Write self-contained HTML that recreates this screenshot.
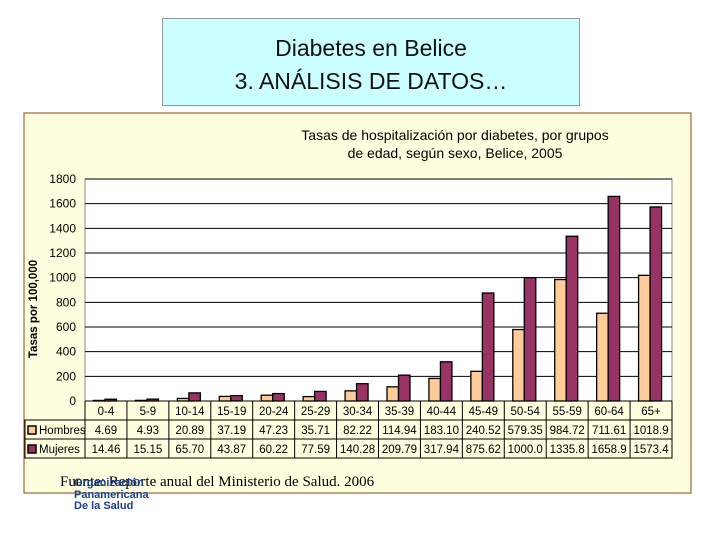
<!DOCTYPE html>
<html><head><meta charset="utf-8"><style>
body{margin:0;width:720px;height:540px;background:#fff;position:relative;overflow:hidden;font-family:"Liberation Sans",sans-serif}
</style></head><body>
<div style="position:absolute;left:162px;top:18px;width:418px;height:88px;background:#ccffff;border:1px solid #999;text-align:center;font-size:23px;line-height:33px;padding-top:13px;box-sizing:border-box;color:#111">Diabetes en Belice<br>3. ANÁLISIS DE DATOS…</div>
<svg width="720" height="540" style="position:absolute;left:0;top:0">
<rect x="24" y="113" width="667" height="380" fill="#ffffe0" stroke="#8b4513" stroke-width="1"/>
<g id="g"></g>
</svg>
<script>
const categories=["0-4","5-9","10-14","15-19","20-24","25-29","30-34","35-39","40-44","45-49","50-54","55-59","60-64","65+"];
const hombres=[4.69,4.93,20.89,37.19,47.23,35.71,82.22,114.94,183.10,240.52,579.35,984.72,711.61,1018.9];
const mujeres=[14.46,15.15,65.70,43.87,60.22,77.59,140.28,209.79,317.94,875.62,1000.0,1335.8,1658.9,1573.4];
const hombresLabels=["4.69","4.93","20.89","37.19","47.23","35.71","82.22","114.94","183.10","240.52","579.35","984.72","711.61","1018.9"];
const mujeresLabels=["14.46","15.15","65.70","43.87","60.22","77.59","140.28","209.79","317.94","875.62","1000.0","1335.8","1658.9","1573.4"];
const yTicks=[0,200,400,600,800,1000,1200,1400,1600,1800];
const NS="http://www.w3.org/2000/svg",g=document.getElementById('g');
const x0=85,x1=672,y0=401,y1=179,ymax=1800,cw=(x1-x0)/categories.length;
const ys=v=>y0-(v/ymax)*(y0-y1);
function mk(t,a,txt){const e=document.createElementNS(NS,t);for(const k in a)e.setAttribute(k,a[k]);if(txt!=null)e.textContent=txt;g.appendChild(e);return e;}
let e=mk('rect',{x:x0,y:y1,width:x1-x0,height:y0-y1,fill:'#fff',stroke:'#888'});


yTicks.forEach(t=>{
 if(t>0){const l=mk('line',{x1:x0,x2:x1,y1:ys(t),y2:ys(t),stroke:'#000','stroke-width':1});
 
 }
 const tx=mk('text',{x:76,y:ys(t)+4,'text-anchor':'end','font-size':12},String(t));
 
 
});
categories.forEach((c,i)=>{
 const bx=x0+i*cw+8.5,bw=11.5;
 const b1=mk('rect',{x:bx,y:ys(hombres[i]),width:bw,height:y0-ys(hombres[i]),fill:'#ffcc99',stroke:'#000','stroke-width':1.3});
 
 
 const b2=mk('rect',{x:bx+bw,y:ys(mujeres[i]),width:bw,height:y0-ys(mujeres[i]),fill:'#993366',stroke:'#000','stroke-width':1.3});
 
 
});
// data table
const rows=[[401,420],[420,439],[439,458]];
const tb=mk('rect',{x:25,y:420,width:x1-25,height:38,fill:'none',stroke:'#000'});


[401,420,439,458].forEach((y,k)=>{const l=mk('line',{x1:k==0?x0:25,x2:x1,y1:y,y2:y,stroke:'#000'});});
for(let i=0;i<=categories.length;i++){const l=mk('line',{x1:x0+i*cw,x2:x0+i*cw,y1:401,y2:458,stroke:'#000'});}
categories.forEach((c,i)=>{
 const cx=x0+i*cw+cw/2;
 const a=mk('text',{x:cx,y:415,'text-anchor':'middle','font-size':11.5},c);
 const b=mk('text',{x:cx,y:434,'text-anchor':'middle','font-size':11.5},hombresLabels[i]);
 const d=mk('text',{x:cx,y:453,'text-anchor':'middle','font-size':11.5},mujeresLabels[i]);
});
[[425,'#ffcc99','Hombres','legend-hombres'],[444,'#993366','Mujeres','legend-mujeres']].forEach(r=>{
 const s=mk('rect',{x:28,y:r[0]+1,width:8,height:8,fill:r[1],stroke:'#000','stroke-width':1.5});
 const t=mk('text',{x:39,y:r[0]+9,'font-size':11.5},r[2]);
});
</script>
<div style="position:absolute;left:240px;top:126px;width:430px;text-align:center;font-size:14px;line-height:18px">Tasas de hospitalización por diabetes, por grupos<br>de edad, según sexo, Belice, 2005</div>
<div style="position:absolute;left:-21px;top:303px;width:110px;text-align:center;font-size:11.5px;font-weight:bold;transform:rotate(-90deg)">Tasas por 100,000</div>
<div style="position:absolute;left:60px;top:474px;font-family:'Liberation Serif',serif;font-size:15px">Fuente: Reporte anual del Ministerio de Salud. 2006</div>
<div style="position:absolute;left:74px;top:478px;font-size:11px;font-weight:bold;color:#1a3f8f;line-height:11.5px">Organización<br>Panamericana<br>De la Salud</div>
</body></html>
